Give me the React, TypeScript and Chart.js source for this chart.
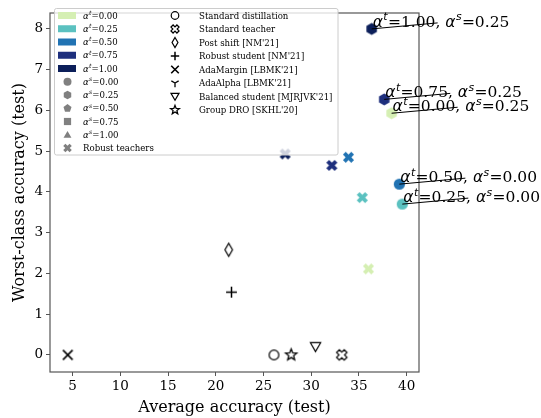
import React, { useEffect, useRef } from 'react';
import { Chart, registerables } from 'chart.js';
Chart.register(...registerables);

const SERIF = '"DejaVu Serif", serif';
const SANS = '"DejaVu Sans", sans-serif';

// ---- data ----
const teacherAlphaLabels = ['0.00', '0.25', '0.50', '0.75', '1.00'];
const alphaColors = ['#d5efb3', '#5bc1c0', '#2173b3', '#1e2f7d', '#0c1f5a'];
const studentAlphaLabels = ['0.00', '0.25', '0.50', '0.75', '1.00'];

const robustTeacherX = [36.0, 35.35, 33.9, 32.16, 27.27];
const robustTeacherY = [2.11, 3.86, 4.85, 4.65, 4.93];

const studentTeacherAlpha = ['1.00', '0.75', '0.00', '0.50', '0.25'];
const studentStudentAlpha = ['0.25', '0.25', '0.25', '0.00', '0.00'];
const studentX = [36.33, 37.65, 38.42, 39.23, 39.54];
const studentY = [8.0, 6.27, 5.93, 4.19, 3.7];

const baselineNames = [
  'Standard distillation',
  'Standard teacher',
  "Post shift [NM'21]",
  "Robust student [NM'21]",
  "AdaMargin [LBMK'21]",
  "AdaAlpha [LBMK'21]",
  "Balanced student [MJRJVK'21]",
  "Group DRO [SKHL'20]",
];
const baselineX: (number | null)[] = [26.1, 33.2, 21.36, 21.65, 4.5, null, 30.45, 27.9];
const baselineY: (number | null)[] = [0, 0, 2.58, 1.54, 0, null, 0.2, 0];

const xTicks = [5, 10, 15, 20, 25, 30, 35, 40];
const yTicks = [0, 1, 2, 3, 4, 5, 6, 7, 8];
const xTitle = 'Average accuracy (test)';
const yTitle = 'Worst-class accuracy (test)';

// ---- marker helpers ----
type Pt = [number, number];
function regularPoly(n: number, r: number, rotDeg: number): Pt[] {
  const pts: Pt[] = [];
  for (let k = 0; k < n; k++) {
    const a = ((rotDeg + (360 / n) * k) * Math.PI) / 180;
    pts.push([r * Math.cos(a), r * Math.sin(a)]);
  }
  return pts;
}
function starPts(ro: number, ri: number): Pt[] {
  const pts: Pt[] = [];
  for (let k = 0; k < 10; k++) {
    const a = ((-90 + 36 * k) * Math.PI) / 180;
    const r = k % 2 === 0 ? ro : ri;
    pts.push([r * Math.cos(a), r * Math.sin(a)]);
  }
  return pts;
}
function xPts(r: number, w: number): Pt[] {
  const base: Pt[] = [
    [w, r], [w, w], [r, w], [r, -w], [w, -w], [w, -r],
    [-w, -r], [-w, -w], [-r, -w], [-r, w], [-w, w], [-w, r],
  ];
  const c = Math.SQRT1_2;
  return base.map(([x, y]) => [x * c - y * c, x * c + y * c] as Pt);
}
function polyPath(ctx: CanvasRenderingContext2D, cx: number, cy: number, pts: Pt[]) {
  ctx.beginPath();
  pts.forEach(([x, y], i) => (i === 0 ? ctx.moveTo(cx + x, cy + y) : ctx.lineTo(cx + x, cy + y)));
  ctx.closePath();
}

type MarkerKind =
  | 'circle' | 'hexagon' | 'octagon' | 'pentagon' | 'square' | 'triangle' | 'Xfill'
  | 'Xopen' | 'circleOpen' | 'thinDiamond' | 'plus' | 'x' | 'triDown' | 'triangleDownOpen' | 'starOpen';

function drawMarker(ctx: CanvasRenderingContext2D, kind: MarkerKind, cx: number, cy: number, color: string, s: number) {
  ctx.save();
  ctx.fillStyle = color;
  ctx.strokeStyle = color;
  ctx.lineWidth = 1.2;
  ctx.lineJoin = 'miter';
  switch (kind) {
    case 'circle':
      ctx.beginPath(); ctx.arc(cx, cy, s, 0, Math.PI * 2); ctx.fill(); break;
    case 'hexagon':
      polyPath(ctx, cx, cy, regularPoly(6, s * 1.08, -90)); ctx.fill(); break;
    case 'octagon':
      polyPath(ctx, cx, cy, regularPoly(8, s * 1.05, 22.5)); ctx.fill(); break;
    case 'pentagon':
      polyPath(ctx, cx, cy, regularPoly(5, s * 1.05, -90)); ctx.fill(); break;
    case 'square':
      ctx.fillRect(cx - s * 0.9, cy - s * 0.9, s * 1.8, s * 1.8); break;
    case 'triangle':
      polyPath(ctx, cx, cy + s * 0.2, regularPoly(3, s * 1.15, -90)); ctx.fill(); break;
    case 'Xfill':
      polyPath(ctx, cx, cy, xPts(s * 1.05, s * 0.36)); ctx.fill(); break;
    case 'Xopen':
      ctx.fillStyle = '#fff';
      polyPath(ctx, cx, cy, xPts(s * 1.0, s * 0.36)); ctx.fill(); ctx.stroke(); break;
    case 'circleOpen':
      ctx.fillStyle = '#fff';
      ctx.beginPath(); ctx.arc(cx, cy, s * 0.9, 0, Math.PI * 2); ctx.fill(); ctx.stroke(); break;
    case 'thinDiamond':
      ctx.fillStyle = '#fff';
      polyPath(ctx, cx, cy, [[0, -s * 1.2], [s * 0.7, 0], [0, s * 1.2], [-s * 0.7, 0]]);
      ctx.fill(); ctx.stroke(); break;
    case 'plus':
      ctx.lineWidth = 1.5;
      ctx.beginPath();
      ctx.moveTo(cx - s, cy); ctx.lineTo(cx + s, cy);
      ctx.moveTo(cx, cy - s); ctx.lineTo(cx, cy + s);
      ctx.stroke(); break;
    case 'x':
      ctx.lineWidth = 1.6;
      ctx.beginPath();
      ctx.moveTo(cx - s * 0.9, cy - s * 0.9); ctx.lineTo(cx + s * 0.9, cy + s * 0.9);
      ctx.moveTo(cx - s * 0.9, cy + s * 0.9); ctx.lineTo(cx + s * 0.9, cy - s * 0.9);
      ctx.stroke(); break;
    case 'triDown':
      ctx.lineWidth = 1.3;
      ctx.beginPath();
      ctx.moveTo(cx, cy); ctx.lineTo(cx, cy + s);
      ctx.moveTo(cx, cy); ctx.lineTo(cx - s * 0.87, cy - s * 0.5);
      ctx.moveTo(cx, cy); ctx.lineTo(cx + s * 0.87, cy - s * 0.5);
      ctx.stroke(); break;
    case 'triangleDownOpen':
      ctx.fillStyle = '#fff';
      polyPath(ctx, cx, cy - s * 0.2, regularPoly(3, s * 1.1, 90)); ctx.fill(); ctx.stroke(); break;
    case 'starOpen':
      ctx.fillStyle = '#fff';
      ctx.lineWidth = 1.3;
      polyPath(ctx, cx, cy, starPts(s * 1.1, s * 0.48)); ctx.fill(); ctx.stroke(); break;
  }
  ctx.restore();
}

function markerCanvas(kind: MarkerKind, color: string, s: number): HTMLCanvasElement {
  const size = Math.ceil(s * 3 + 4);
  const cv = document.createElement('canvas');
  cv.width = size; cv.height = size;
  const ctx = cv.getContext('2d')!;
  drawMarker(ctx, kind, size / 2, size / 2, color, s);
  return cv;
}

const studentShape: Record<string, MarkerKind> = {
  '0.00': 'circle', '0.25': 'hexagon', '0.50': 'pentagon', '0.75': 'square', '1.00': 'triangle',
};
const baselineShapes: MarkerKind[] = ['circleOpen', 'Xopen', 'thinDiamond', 'plus', 'x', 'triDown', 'triangleDownOpen', 'starOpen'];

// draws alpha^sup=value, ... ; returns end x
function drawAlphaText(ctx: CanvasRenderingContext2D, x: number, y: number, items: [string, string][], size: number) {
  ctx.save();
  ctx.textBaseline = 'alphabetic';
  ctx.textAlign = 'left';
  ctx.fillStyle = '#000';
  let cx = x;
  items.forEach(([sup, val], i) => {
    if (i > 0) {
      ctx.font = `${size}px ${SERIF}`;
      ctx.fillText(', ', cx, y);
      cx += ctx.measureText(', ').width;
    }
    ctx.font = `italic ${size}px ${SANS}`;
    ctx.fillText('α', cx, y);
    cx += ctx.measureText('α').width;
    ctx.font = `italic ${size * 0.7}px ${SANS}`;
    ctx.fillText(sup, cx + size * 0.03, y - size * 0.42);
    cx += ctx.measureText(sup).width + size * 0.05;
    ctx.font = `${size}px ${SERIF}`;
    ctx.fillText('=' + val, cx, y);
    cx += ctx.measureText('=' + val).width;
  });
  ctx.restore();
  return cx;
}

const overlayPlugin = {
  id: 'overlay',
  beforeDatasetsDraw(chart: any) {
    const { ctx, chartArea: a } = chart;
    ctx.save();
    ctx.strokeStyle = '#555';
    ctx.lineWidth = 1.2;
    ctx.strokeRect(a.left, a.top, a.right - a.left, a.bottom - a.top);
    ctx.restore();
  },
  afterDraw(chart: any) {
    const { ctx } = chart;
    const xs = chart.scales.x;
    const ys = chart.scales.y;
    // annotations
    studentX.forEach((vx, i) => {
      const px = xs.getPixelForValue(vx);
      const py = ys.getPixelForValue(studentY[i]);
      ctx.save();
      ctx.strokeStyle = '#000';
      ctx.lineWidth = 1;
      ctx.beginPath();
      ctx.moveTo(px, py);
      ctx.lineTo(px + 66, py - 6);
      ctx.stroke();
      ctx.restore();
      drawAlphaText(ctx, px + 1, py - 2, [['t', studentTeacherAlpha[i]], ['s', studentStudentAlpha[i]]], 15.5);
    });
    // legend box
    ctx.save();
    ctx.fillStyle = 'rgba(255,255,255,0.8)';
    ctx.strokeStyle = '#cccccc';
    ctx.lineWidth = 1;
    ctx.beginPath();
    (ctx as any).roundRect(54.5, 8.5, 283.5, 146.5, 2);
    ctx.fill();
    ctx.stroke();
    ctx.restore();
    const row0 = 15.5;
    const dy = 13.25;
    const fs = 8.6;
    // left column
    teacherAlphaLabels.forEach((lab, i) => {
      const y = row0 + dy * i;
      ctx.fillStyle = alphaColors[i];
      ctx.fillRect(58, y - 3.5, 18, 7);
      drawAlphaText(ctx, 83, y + 3, [['t', lab]], fs);
    });
    studentAlphaLabels.forEach((lab, i) => {
      const y = row0 + dy * (i + 5);
      drawMarker(ctx, studentShape[lab], 67.5, y, '#808080', 4);
      drawAlphaText(ctx, 83, y + 3, [['s', lab]], fs);
    });
    {
      const y = row0 + dy * 10;
      drawMarker(ctx, 'Xfill', 67.5, y, '#808080', 4.3);
      ctx.save();
      ctx.fillStyle = '#000';
      ctx.font = `${fs}px ${SERIF}`;
      ctx.textBaseline = 'alphabetic';
      ctx.fillText('Robust teachers', 83, y + 3);
      ctx.restore();
    }
    // right column
    baselineNames.forEach((name, i) => {
      const y = row0 + 13.5 * i;
      drawMarker(ctx, baselineShapes[i], 175, y, '#000', 4.2);
      ctx.save();
      ctx.fillStyle = '#000';
      ctx.font = `${fs}px ${SERIF}`;
      ctx.textBaseline = 'alphabetic';
      ctx.fillText(name, 199, y + 3);
      ctx.restore();
    });
  },
};

export default function App() {
  const ref = useRef<HTMLCanvasElement>(null);
  useEffect(() => {
    if (!ref.current) return;
    const datasets: any[] = [];
    datasets.push({
      label: 'Robust teachers',
      data: robustTeacherX.map((x, i) => ({ x, y: robustTeacherY[i] })),
      pointStyle: robustTeacherX.map((_, i) => markerCanvas('Xfill', alphaColors[i], 5.6)),
      pointRadius: 6,
      clip: false,
    });
    baselineNames.forEach((name, i) => {
      if (baselineX[i] === null || baselineY[i] === null) return;
      datasets.push({
        label: name,
        data: [{ x: baselineX[i], y: baselineY[i] }],
        pointStyle: markerCanvas(baselineShapes[i], '#000', 5.4),
        pointRadius: 6,
        clip: false,
      });
    });
    datasets.push({
      label: 'Students',
      data: studentX.map((x, i) => ({ x, y: studentY[i] })),
      pointStyle: studentX.map((_, i) =>
        markerCanvas(studentShape[studentStudentAlpha[i]], alphaColors[teacherAlphaLabels.indexOf(studentTeacherAlpha[i])], 5.6)
      ),
      pointRadius: 6,
      clip: false,
    });

    const tickFont = { family: SERIF, size: 13.5 };
    const chart = new Chart(ref.current, {
      type: 'scatter',
      data: { datasets },
      options: {
        animation: false,
        responsive: false,
        events: [],
        layout: { padding: { left: 0, right: 122, top: 13, bottom: 0 } },
        plugins: { legend: { display: false }, tooltip: { enabled: false } },
        scales: {
          x: {
            type: 'linear',
            min: 2.64,
            max: 41.29,
            afterBuildTicks: (s: any) => { s.ticks = xTicks.map((v) => ({ value: v })); },
            afterFit: (s: any) => { s.height = 46; },
            grid: { display: true, drawOnChartArea: false, drawTicks: true, tickLength: 4, color: '#555' },
            border: { display: false },
            ticks: { font: tickFont, color: '#000', padding: 2, maxRotation: 0, autoSkip: false },
            title: { display: true, text: xTitle, font: { family: SERIF, size: 16 }, color: '#000', padding: { top: 0, bottom: 1 } },
          },
          y: {
            type: 'linear',
            min: -0.42,
            max: 8.39,
            afterBuildTicks: (s: any) => { s.ticks = yTicks.map((v) => ({ value: v })); },
            afterFit: (s: any) => { s.width = 50; },
            grid: { display: true, drawOnChartArea: false, drawTicks: true, tickLength: 4, color: '#555' },
            border: { display: false },
            ticks: { font: tickFont, color: '#000', padding: 3, autoSkip: false },
            title: { display: true, text: yTitle, font: { family: SERIF, size: 16 }, color: '#000', padding: { top: 10, bottom: 0 } },
          },
        },
      } as any,
      plugins: [overlayPlugin],
    });
    return () => chart.destroy();
  }, []);
  return (
    <div style={{ position: 'absolute', left: 0, top: 0, width: 541, height: 418, background: '#fff' }}>
      <canvas ref={ref} width={541} height={418} style={{ display: 'block', width: 541, height: 418 }} />
    </div>
  );
}
